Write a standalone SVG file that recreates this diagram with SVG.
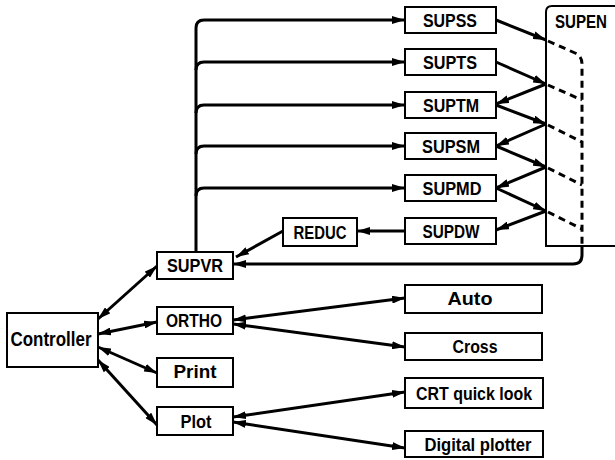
<svg xmlns="http://www.w3.org/2000/svg" width="615" height="460" viewBox="0 0 615 460">
  <style>
    .box { fill: #fff; stroke: #000; stroke-width: 2; }
    .lbl { font-family: "Liberation Sans", Arial, sans-serif; font-size: 19px; font-weight: bold; fill: #000; text-anchor: middle; }
    .wire { fill: none; stroke: #000; stroke-width: 3; }
    .dash { fill: none; stroke: #000; stroke-width: 3; stroke-dasharray: 7 5; }
    .one { marker-end: url(#ah); }
    .two { marker-start: url(#ah); marker-end: url(#ah); }
  </style>
  <defs>
    <marker id="ah" viewBox="0 0 13 8" refX="13" refY="4" markerWidth="13" markerHeight="8" markerUnits="userSpaceOnUse" orient="auto-start-reverse">
      <path d="M0,0 L13,4 L0,8 z" fill="#000"/>
    </marker>
  </defs>
  <rect width="615" height="460" fill="#fff"/>

  <g id="connectors">
    <!-- supervisor trunk feeding the stage routines -->
    <path class="wire one" d="M196,252 L196,28 Q196,20 204,20 L405,20"/>
    <path class="wire one" d="M196,70 Q196,62 204,62 L405,62"/>
    <path class="wire one" d="M196,113 Q196,105 204,105 L405,105"/>
    <path class="wire one" d="M196,154 Q196,146 204,146 L405,146"/>
    <path class="wire one" d="M196,196 Q196,188 204,188 L405,188"/>
    <!-- SUPDW to REDUC to SUPVR -->
    <path class="wire one" d="M406,231 L357,231"/>
    <path class="wire one" d="M283,231 L236,257"/>
    <!-- return from SUPEN -->
    <path class="wire one" d="M582,246 L582,255 Q582,264 573,264 L233,264"/>
    <!-- stage outputs into SUPEN and back -->
    <path class="wire one" d="M496,20 L546,40"/>
    <path class="wire one" d="M496,62 L546,84"/>
    <path class="wire one" d="M546,84 L496,104"/>
    <path class="wire one" d="M496,105 L546,124"/>
    <path class="wire one" d="M546,124 L496,146"/>
    <path class="wire one" d="M496,146 L546,167"/>
    <path class="wire one" d="M546,167 L496,188"/>
    <path class="wire one" d="M496,188 L546,211"/>
    <path class="wire one" d="M546,211 L496,230"/>
    <!-- internal SUPEN paths -->
    <path class="dash" d="M548,41 L575,53 Q582,56 582,64 L582,246"/>
    <path class="dash" d="M548,85 L582,100"/>
    <path class="dash" d="M548,125 L582,142"/>
    <path class="dash" d="M548,168 L582,185"/>
    <path class="dash" d="M548,212 L582,229"/>
    <!-- controller links -->
    <path class="wire two" d="M98,319 L157,266"/>
    <path class="wire two" d="M98,334 L157,322"/>
    <path class="wire two" d="M98,347 L157,373"/>
    <path class="wire two" d="M98,360 L157,425"/>
    <!-- ORTHO and Plot options -->
    <path class="wire two" d="M233,320 L405,298"/>
    <path class="wire two" d="M233,324 L405,347"/>
    <path class="wire two" d="M233,417 L405,392"/>
    <path class="wire two" d="M233,422 L405,448"/>
  </g>

  <g id="SUPEN">
    <path d="M615,246 L546,246 L546,12 Q546,6 552,6 L615,6" fill="none" stroke="#000" stroke-width="2"/>
    <text class="lbl" x="581" y="28" textLength="52" lengthAdjust="spacingAndGlyphs">SUPEN</text>
  </g>

  <g id="SUPSS">
    <rect class="box" x="405" y="7" width="91" height="26"/>
    <text class="lbl" x="450" y="27" textLength="54" lengthAdjust="spacingAndGlyphs">SUPSS</text>
  </g>
  <g id="SUPTS">
    <rect class="box" x="405" y="49" width="91" height="26"/>
    <text class="lbl" x="450" y="69" textLength="54" lengthAdjust="spacingAndGlyphs">SUPTS</text>
  </g>
  <g id="SUPTM">
    <rect class="box" x="405" y="92" width="91" height="26"/>
    <text class="lbl" x="451" y="112" textLength="56" lengthAdjust="spacingAndGlyphs">SUPTM</text>
  </g>
  <g id="SUPSM">
    <rect class="box" x="405" y="133" width="91" height="26"/>
    <text class="lbl" x="451" y="153" textLength="58" lengthAdjust="spacingAndGlyphs">SUPSM</text>
  </g>
  <g id="SUPMD">
    <rect class="box" x="405" y="175" width="91" height="26"/>
    <text class="lbl" x="452" y="195" textLength="59" lengthAdjust="spacingAndGlyphs">SUPMD</text>
  </g>
  <g id="SUPDW">
    <rect class="box" x="405" y="218" width="91" height="26"/>
    <text class="lbl" x="451" y="238" textLength="57" lengthAdjust="spacingAndGlyphs">SUPDW</text>
  </g>
  <g id="REDUC">
    <rect class="box" x="283" y="218" width="74" height="28"/>
    <text class="lbl" x="320" y="239" textLength="53" lengthAdjust="spacingAndGlyphs">REDUC</text>
  </g>
  <g id="SUPVR">
    <rect class="box" x="157" y="252" width="76" height="27"/>
    <text class="lbl" x="195" y="272" textLength="56" lengthAdjust="spacingAndGlyphs">SUPVR</text>
  </g>
  <g id="ORTHO">
    <rect class="box" x="157" y="307" width="76" height="27"/>
    <text class="lbl" x="194" y="327" textLength="56" lengthAdjust="spacingAndGlyphs">ORTHO</text>
  </g>
  <g id="Print">
    <rect class="box" x="157" y="358" width="76" height="29"/>
    <text class="lbl" x="195" y="378" textLength="43" lengthAdjust="spacingAndGlyphs">Print</text>
  </g>
  <g id="Plot">
    <rect class="box" x="157" y="407" width="76" height="28"/>
    <text class="lbl" x="196" y="428" textLength="31" lengthAdjust="spacingAndGlyphs">Plot</text>
  </g>
  <g id="Controller">
    <rect class="box" x="7" y="313" width="91" height="54"/>
    <text class="lbl" x="51" y="346" style="font-size:20px" textLength="81" lengthAdjust="spacingAndGlyphs">Controller</text>
  </g>
  <g id="Auto">
    <rect class="box" x="405" y="285" width="137" height="28"/>
    <text class="lbl" x="470" y="305" textLength="45" lengthAdjust="spacingAndGlyphs">Auto</text>
  </g>
  <g id="Cross">
    <rect class="box" x="405" y="333" width="137" height="27"/>
    <text class="lbl" x="475" y="353" textLength="45" lengthAdjust="spacingAndGlyphs">Cross</text>
  </g>
  <g id="CRT_quick_look">
    <rect class="box" x="405" y="378" width="138" height="30"/>
    <text class="lbl" x="474" y="400" textLength="116" lengthAdjust="spacingAndGlyphs">CRT quick look</text>
  </g>
  <g id="Digital_plotter">
    <rect class="box" x="405" y="431" width="138" height="26"/>
    <text class="lbl" x="478" y="451" textLength="107" lengthAdjust="spacingAndGlyphs">Digital plotter</text>
  </g>
</svg>
